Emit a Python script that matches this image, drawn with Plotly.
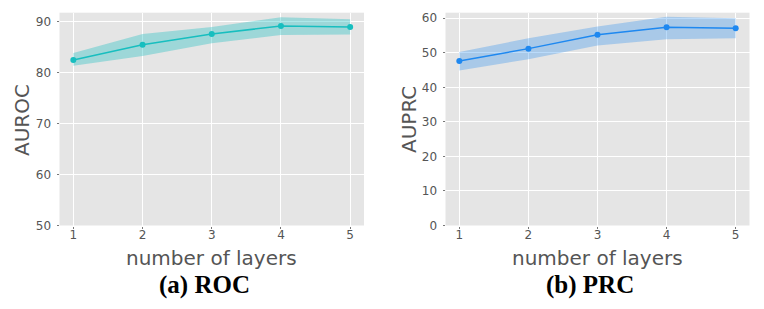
import plotly.graph_objects as go

layers = [1, 2, 3, 4, 5]
auroc_mean = [82.5, 85.5, 87.6, 89.2, 89.0]
auroc_upper = [83.9, 87.6, 89.0, 90.9, 90.5]
auroc_lower = [81.4, 83.3, 85.8, 87.4, 87.5]
auprc_mean = [47.6, 51.2, 55.2, 57.4, 57.1]
auprc_upper = [50.2, 54.2, 57.6, 60.4, 60.0]
auprc_lower = [44.9, 48.1, 52.1, 53.9, 54.2]
x_ticks = [1, 2, 3, 4, 5]
roc_y_ticks = [50, 60, 70, 80, 90]
prc_y_ticks = [0, 10, 20, 30, 40, 50, 60]

W, H = 764, 309
def px(x):
    return x / W
def py(y):
    return 1 - y / H

fig = go.Figure()

def add_panel(xa, ya, mean, upper, lower, line_color, fill_color):
    fig.add_trace(go.Scatter(x=layers, y=upper, mode="lines", line=dict(width=0, color=fill_color),
                             xaxis=xa, yaxis=ya, showlegend=False, hoverinfo="skip"))
    fig.add_trace(go.Scatter(x=layers, y=lower, mode="lines", line=dict(width=0, color=fill_color),
                             fill="tonexty", fillcolor=fill_color,
                             xaxis=xa, yaxis=ya, showlegend=False, hoverinfo="skip"))
    fig.add_trace(go.Scatter(x=layers, y=mean, mode="lines+markers",
                             line=dict(width=1.5, color=line_color),
                             marker=dict(size=6, color=line_color),
                             xaxis=xa, yaxis=ya, showlegend=False))

add_panel("x", "y", auroc_mean, auroc_upper, auroc_lower, "#17BEBF", "rgba(23,190,191,0.35)")
add_panel("x2", "y2", auprc_mean, auprc_upper, auprc_lower, "#1E88F0", "rgba(30,136,240,0.30)")

y0, y1 = py(225.5), py(12.7)
axis_common = dict(showgrid=True, gridcolor="white", gridwidth=1, zeroline=False,
                   ticks="outside", ticklen=2, tickcolor="#777777",
                   tickfont=dict(family="DejaVu Sans", size=12, color="#555555"),
                   showline=False, automargin=False)
xstyle = dict(axis_common, ticklabelstandoff=-4)
ystyle = dict(axis_common, ticklabelstandoff=3)

fig.update_layout(
    width=W, height=H,
    margin=dict(l=0, r=0, t=0, b=0),
    paper_bgcolor="white",
    plot_bgcolor="#E5E5E5",
    xaxis=dict(domain=[px(59.5), px(364)], range=[0.8, 5.2], tickvals=x_ticks, anchor="y", **xstyle),
    yaxis=dict(domain=[y0, y1], range=[50, 91.8], tickvals=roc_y_ticks, anchor="x", **ystyle),
    xaxis2=dict(domain=[px(445.5), px(749.5)], range=[0.8, 5.2], tickvals=x_ticks, anchor="y2", **xstyle),
    yaxis2=dict(domain=[y0, y1], range=[0, 61.6], tickvals=prc_y_ticks, anchor="x2", **ystyle),
)

label_font = dict(family="DejaVu Sans", size=20, color="#555555")
cap_font = dict(family="Liberation Serif", size=25, color="black")
annots = [
    dict(text="number of layers", x=px(211), y=py(258), font=label_font),
    dict(text="number of layers", x=px(597), y=py(258), font=label_font),
    dict(text="AUROC", x=px(22), y=py(120), font=label_font, textangle=-90),
    dict(text="AUPRC", x=px(409), y=py(120), font=label_font, textangle=-90),
    dict(text="<b>(a) ROC</b>", x=px(204), y=py(285), font=cap_font),
    dict(text="<b>(b) PRC</b>", x=px(590), y=py(285), font=cap_font),
]
for a in annots:
    fig.add_annotation(xref="paper", yref="paper", showarrow=False,
                       xanchor="center", yanchor="middle", **a)

fig.write_html("out.html", config={"displayModeBar": False},
               post_script="document.body.style.margin='0';document.body.style.overflow='hidden';")
